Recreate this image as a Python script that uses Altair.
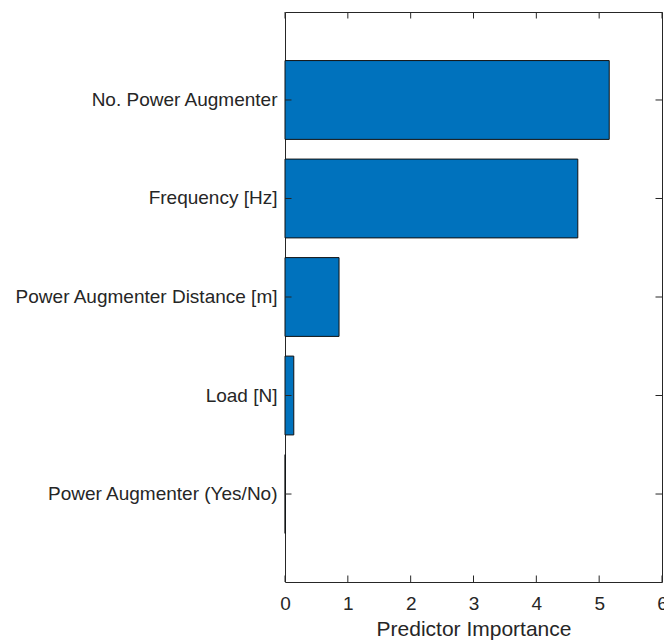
import altair as alt
import pandas as pd

# Predictor importance estimates, top to bottom
features = [
    "No. Power Augmenter",
    "Frequency [Hz]",
    "Power Augmenter Distance [m]",
    "Load [N]",
    "Power Augmenter (Yes/No)",
]
importance = [5.16, 4.66, 0.86, 0.14, 0.004]
x_ticks = [0, 1, 2, 3, 4, 5, 6]

W, H = 377, 570
TICK = 6.5
INK = "#262626"
FONT = "Liberation Sans"

bars_df = pd.DataFrame({"feature": features, "importance": importance})
ticks_df = pd.DataFrame({"t": x_ticks})

x_scale = alt.Scale(domain=[0, 6], nice=False, zero=True)
y_scale = alt.Scale(paddingInner=0.2, paddingOuter=0.493)

x_axis = alt.Axis(
    values=x_ticks, format="d", tickSize=0, domain=False, grid=False,
    labelFlush=False, labelOverlap=False,
    labelFontSize=19, labelFont=FONT, labelColor=INK, labelPadding=12,
    title="Predictor Importance", titleFontSize=21, titleFont=FONT,
    titleFontWeight="normal", titleColor=INK, titlePadding=5,
)
y_axis = alt.Axis(
    tickSize=0, domain=False, grid=False, title=None, labelLimit=400,
    labelFontSize=19, labelFont=FONT, labelColor=INK, labelPadding=8,
)

y_enc = alt.Y("feature:N", sort=features, scale=y_scale, axis=y_axis)

bars = alt.Chart(bars_df).mark_bar(
    color="#0072BD", stroke="#111111", strokeWidth=1
).encode(
    x=alt.X("importance:Q", scale=x_scale, axis=x_axis),
    y=y_enc,
)

# Inward-pointing tick marks on all four sides of the box
y_ticks_left = alt.Chart(bars_df).mark_rule(color=INK, strokeWidth=1).encode(
    y=alt.Y("feature:N", sort=features), x=alt.value(0), x2=alt.value(TICK)
)
y_ticks_right = alt.Chart(bars_df).mark_rule(color=INK, strokeWidth=1).encode(
    y=alt.Y("feature:N", sort=features), x=alt.value(W - TICK), x2=alt.value(W)
)
x_ticks_bottom = alt.Chart(ticks_df).mark_rule(color=INK, strokeWidth=1).encode(
    x=alt.X("t:Q"), y=alt.value(H - TICK), y2=alt.value(H)
)
x_ticks_top = alt.Chart(ticks_df).mark_rule(color=INK, strokeWidth=1).encode(
    x=alt.X("t:Q"), y=alt.value(0), y2=alt.value(TICK)
)

chart = (
    alt.layer(bars, y_ticks_left, y_ticks_right, x_ticks_bottom, x_ticks_top)
    .properties(
        width=W,
        height=H,
        autosize=alt.AutoSizeParams(type="none"),
        padding={"left": 285, "top": 12, "right": 2, "bottom": 60},
        background="white",
    )
    .configure_view(stroke=INK, strokeWidth=1)
)

chart.save("out.html", embed_options={"renderer": "svg", "actions": False})
